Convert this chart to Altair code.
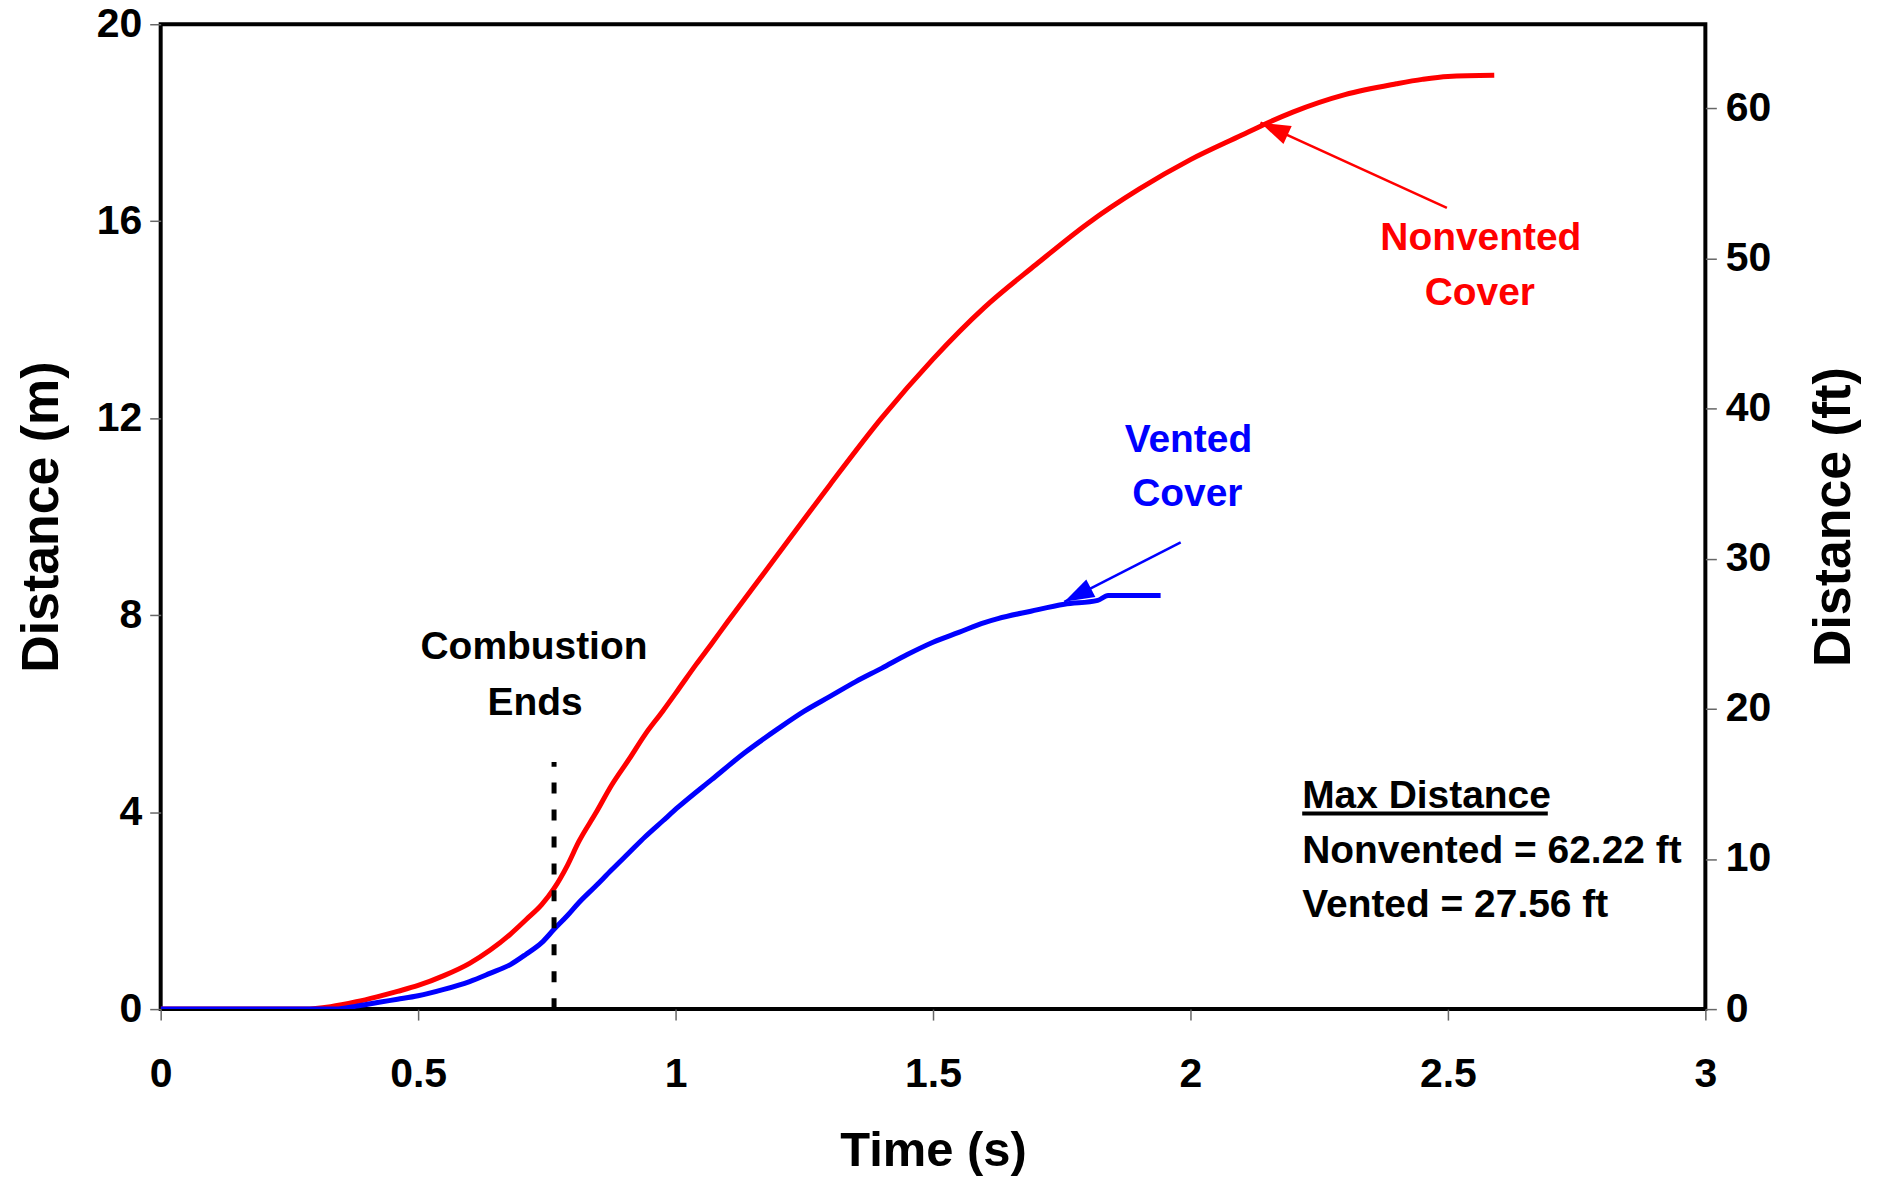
import math
import altair as alt
import pandas as pd

# ---------------- data ----------------
# Nonvented cover (red)
red_t = [0, 0.28, 0.33, 0.38, 0.42, 0.46, 0.5, 0.55, 0.6, 0.64, 0.68, 0.71, 0.74,
         0.764, 0.79, 0.812, 0.845, 0.876, 0.91, 0.941, 0.975, 1.006, 1.04, 1.07,
         1.1, 1.15, 1.2, 1.3, 1.4, 1.5, 1.6, 1.7, 1.8, 1.9, 2.0, 2.1, 2.14, 2.2,
         2.3, 2.4, 2.45, 2.5, 2.59]
red_d = [0, 0, 0.05, 0.15, 0.25, 0.36, 0.48, 0.68, 0.93, 1.2, 1.53, 1.82, 2.12,
         2.45, 2.92, 3.4, 3.98, 4.55, 5.08, 5.58, 6.05, 6.5, 7.0, 7.42,
         7.85, 8.55, 9.25, 10.65, 12.0, 13.2, 14.25, 15.12, 15.95, 16.65, 17.25, 17.75, 17.95, 18.22,
         18.57, 18.79, 18.88, 18.94, 18.965]

# Vented cover (blue)
blue_t = [0, 0.34, 0.38, 0.424, 0.46, 0.5, 0.55, 0.6, 0.638, 0.68, 0.709, 0.74,
          0.764, 0.79, 0.812, 0.845, 0.876, 0.91, 0.941, 0.975, 1.006, 1.07, 1.136,
          1.2, 1.25, 1.3, 1.35, 1.4, 1.45, 1.5, 1.55, 1.6, 1.626, 1.69, 1.755, 1.82,
          1.84, 1.942]
blue_d = [0, 0, 0.06, 0.14, 0.2, 0.27, 0.4, 0.56, 0.72, 0.91, 1.11, 1.35,
          1.62, 1.9, 2.16, 2.5, 2.83, 3.18, 3.5, 3.82, 4.11, 4.66, 5.22,
          5.7, 6.05, 6.35, 6.65, 6.92, 7.2, 7.45, 7.65, 7.85, 7.93, 8.08, 8.22, 8.3,
          8.4, 8.4]

# combustion ends marker
comb_t = 0.764
comb_top = 5.02

# tick values
x_ticks = [0, 0.5, 1, 1.5, 2, 2.5, 3]
y_ticks_m = [0, 4, 8, 12, 16, 20]
y_ticks_ft = [0, 10, 20, 30, 40, 50, 60]
M_TO_FT = 3.28084

# labels (text, t, d, color, align)
label_text = ["Combustion", "Ends", "Vented", "Cover", "Nonvented", "Cover",
              "Max Distance", "Nonvented = 62.22 ft", "Vented = 27.56 ft"]
label_t = [0.725, 0.727, 1.996, 1.994, 2.564, 2.562, 2.217, 2.217, 2.217]
label_d = [7.1, 5.98, 11.32, 10.21, 15.41, 14.3, 4.09, 2.97, 1.88]
label_color = ["black", "black", "#0000FF", "#0000FF", "#FF0000", "#FF0000",
               "black", "black", "black"]
label_align = ["center"] * 6 + ["left"] * 3

# arrows (tail -> tip)
arrow_tail_t = [2.498, 1.981]
arrow_tail_d = [16.27, 9.48]
arrow_tip_t = [2.136, 1.755]
arrow_tip_d = [18.0, 8.27]
arrow_color = ["#FF0000", "#0000FF"]

# underline of "Max Distance"
ul_t = [2.217]
ul_t2 = [2.694]
ul_d = [3.97]

# ---------------- layout ----------------
W, H = 1548, 987
FONT = "Liberation Sans"

df_lines = pd.concat([
    pd.DataFrame({"t": red_t, "d": red_d, "s": "Nonvented", "c": "#FF0000"}),
    pd.DataFrame({"t": blue_t, "d": blue_d, "s": "Vented", "c": "#0000FF"}),
])

px_t = W / 3.0
px_d = H / 20.0
angles = []
for tt, td, pt, pd_ in zip(arrow_tail_t, arrow_tail_d, arrow_tip_t, arrow_tip_d):
    dx = (pt - tt) * px_t
    dy = -(pd_ - td) * px_d
    angles.append(math.degrees(math.atan2(dx, -dy)) % 360)

df_arrow = pd.DataFrame({"t": arrow_tail_t, "d": arrow_tail_d,
                         "t2": arrow_tip_t, "d2": arrow_tip_d,
                         "c": arrow_color, "ang": angles})
df_head = pd.DataFrame({"t": arrow_tip_t, "d": arrow_tip_d, "c": arrow_color, "ang": angles})
df_comb = pd.DataFrame({"t": [comb_t], "d": [0], "d2": [comb_top]})
df_lab = pd.DataFrame({"t": label_t, "d": label_d, "txt": label_text,
                       "c": label_color, "al": label_align})
df_ul = pd.DataFrame({"t": ul_t, "t2": ul_t2, "d": ul_d})
df_ft = pd.DataFrame({"t": [0, 0], "ft": [0, 20 * M_TO_FT]})

tick_color = "#666666"
LBL = 41

xaxis = alt.Axis(values=x_ticks, format="~g", title="Time (s)", grid=False, domain=False,
                 tickSize=11, tickColor=tick_color, tickWidth=1.5, labelPadding=35,
                 labelFont=FONT, labelFontSize=LBL, labelFontWeight="bold", labelColor="black",
                 labelFlush=False, labelOverlap=False,
                 titleFont=FONT, titleFontSize=49, titleFontWeight="bold", titleColor="black",
                 titleX=W / 2, titleY=142, titleAlign="center", titleBaseline="middle")
yaxis = alt.Axis(values=y_ticks_m, title="Distance (m)", grid=False, domain=False,
                 tickSize=11, tickColor=tick_color, tickWidth=1.5, labelPadding=8,
                 labelFont=FONT, labelFontSize=LBL, labelFontWeight="bold", labelColor="black",
                 labelFlush=False, labelOverlap=False,
                 titleFont=FONT, titleFontSize=52, titleFontWeight="bold", titleColor="black",
                 titleX=-119, titleY=H / 2, titleAngle=270, titleAlign="center",
                 titleBaseline="middle")
ftaxis = alt.Axis(orient="right", values=y_ticks_ft, title="Distance (ft)", grid=False,
                  domain=False, tickSize=11, tickColor=tick_color, tickWidth=1.5,
                  labelPadding=9, labelFont=FONT, labelFontSize=LBL, labelFontWeight="bold",
                  labelColor="black", labelFlush=False, labelOverlap=False,
                  titleFont=FONT, titleFontSize=52, titleFontWeight="bold", titleColor="black",
                  titleX=128, titleY=H / 2, titleAngle=270, titleAlign="center",
                  titleBaseline="middle")

xs = alt.Scale(domain=[0, 3], nice=False, zero=False)
ys = alt.Scale(domain=[0, 20], nice=False)
X = alt.X("t:Q", scale=xs, axis=xaxis)
Y = alt.Y("d:Q", scale=ys, axis=yaxis)

lines = alt.Chart(df_lines).mark_line(strokeWidth=5, clip=True, interpolate="monotone").encode(
    x=X, y=Y, color=alt.Color("c:N", scale=None), detail="s:N", order="t:Q")

comb = alt.Chart(df_comb).mark_rule(color="black", strokeWidth=5, strokeDash=[11, 16]).encode(
    x=X, y=Y, y2="d2:Q")

shafts = alt.Chart(df_arrow).mark_rule(strokeWidth=2.5).encode(
    x=X, y=Y, x2="t2:Q", y2="d2:Q", color=alt.Color("c:N", scale=None))

heads = alt.Chart(df_head).mark_point(
    shape="M0,0L0.6,1.8L-0.6,1.8Z", filled=True, size=1100, opacity=1, strokeWidth=0).encode(
    x=X, y=Y, color=alt.Color("c:N", scale=None), angle=alt.Angle("ang:Q", scale=None))

txt_center = alt.Chart(df_lab[df_lab.al == "center"]).mark_text(
    font=FONT, fontSize=39, fontWeight="bold", align="center", baseline="alphabetic").encode(
    x=X, y=Y, text="txt:N", color=alt.Color("c:N", scale=None))
txt_left = alt.Chart(df_lab[df_lab.al == "left"]).mark_text(
    font=FONT, fontSize=39, fontWeight="bold", align="left", baseline="alphabetic").encode(
    x=X, y=Y, text="txt:N", color=alt.Color("c:N", scale=None))

underline = alt.Chart(df_ul).mark_rule(color="black", strokeWidth=4).encode(
    x=X, x2="t2:Q", y=Y)

main = alt.layer(lines, comb, shafts, heads, txt_center, txt_left, underline)

ft_layer = alt.Chart(df_ft).mark_point(opacity=0).encode(
    x=X, y=alt.Y("ft:Q", scale=alt.Scale(domain=[0, 20 * M_TO_FT], nice=False), axis=ftaxis))

chart = alt.layer(main, ft_layer).resolve_scale(y="independent").properties(
    width=W, height=H,
    padding={"left": 153, "top": 15, "right": 170, "bottom": 170},
    autosize=alt.AutoSizeParams(type="none"),
    background="white",
).configure_view(stroke="black", strokeWidth=4)

chart.save("out.html", embed_options={"renderer": "svg", "actions": False})
